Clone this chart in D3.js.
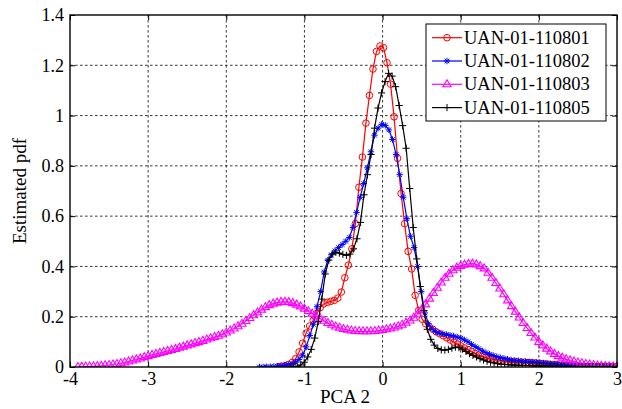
<!DOCTYPE html>
<html><head><meta charset="utf-8">
<script src="https://cdn.jsdelivr.net/npm/d3@7/dist/d3.min.js"></script>
<style>
body{margin:0;background:#fff}
svg{display:block}
text{font-family:"Liberation Serif","Times New Roman",serif;fill:#000}
</style>
</head><body>
<svg id="chart" width="622" height="409"></svg>
<script>
// Axis ticks
const xTicks = [-4, -3, -2, -1, 0, 1, 2, 3];
const xTickLabels = ["-4", "-3", "-2", "-1", "0", "1", "2", "3"];
const yTicks = [0, 0.2, 0.4, 0.6, 0.8, 1, 1.2, 1.4];
const yTickLabels = ["0", "0.2", "0.4", "0.6", "0.8", "1", "1.2", "1.4"];

// Series names (legend order)
const seriesNames = ["UAN-01-110801", "UAN-01-110802", "UAN-01-110803", "UAN-01-110805"];

// Each kernel density estimate is evaluated on a regular PCA 2 grid (start, step)
const gridStart = [-1.338, -1.575, -3.9, -1.183];
const gridStep = [0.045, 0.046, 0.05, 0.045];

// Estimated pdf values along each grid
const pdf110801 = [
  0.001,0.003,0.005,0.010,0.018,0.033,0.060,0.095,0.135,0.163,
  0.186,0.213,0.236,0.251,0.257,0.261,0.265,0.274,0.298,0.355,
  0.405,0.470,0.570,0.715,0.835,0.970,1.080,1.185,1.255,1.277,
  1.270,1.210,1.125,0.995,0.830,0.690,0.570,0.460,0.390,0.285,
  0.225,0.190,0.172,0.160,0.150,0.140,0.132,0.124,0.116,0.107,
  0.099,0.091,0.084,0.076,0.069,0.061,0.053,0.047,0.042,0.038,
  0.034,0.031,0.029,0.027,0.025,0.023,0.022,0.021,0.020,0.019,
  0.019,0.018,0.017,0.016,0.015,0.013,0.012,0.011,0.010,0.009,
  0.008,0.007,0.006,0.005,0.004,0.004,0.003,0.003,0.002,0.002,
  0.002,0.001,0.001,0.001,0.001,0.001,0.000
];
const pdf110802 = [
  0.000,0.000,0.001,0.001,0.002,0.003,0.005,0.007,0.009,0.012,
  0.019,0.030,0.047,0.080,0.125,0.170,0.240,0.300,0.378,0.425,
  0.446,0.462,0.475,0.487,0.500,0.515,0.555,0.615,0.675,0.730,
  0.792,0.856,0.922,0.950,0.965,0.961,0.943,0.905,0.845,0.765,
  0.675,0.590,0.520,0.475,0.400,0.300,0.215,0.172,0.152,0.141,
  0.135,0.132,0.129,0.126,0.123,0.119,0.115,0.108,0.100,0.090,
  0.081,0.073,0.064,0.057,0.051,0.046,0.041,0.037,0.034,0.031,
  0.028,0.026,0.025,0.023,0.022,0.021,0.020,0.019,0.018,0.016,
  0.015,0.013,0.012,0.011,0.009,0.008,0.007,0.006,0.005,0.005,
  0.004,0.003,0.003,0.002,0.002,0.002,0.001,0.001,0.001,0.001
];
const pdf110803 = [
  0.000,0.001,0.002,0.002,0.003,0.004,0.005,0.007,0.008,0.010,
  0.012,0.015,0.018,0.022,0.026,0.030,0.034,0.039,0.043,0.048,
  0.052,0.056,0.060,0.064,0.068,0.072,0.077,0.081,0.086,0.090,
  0.095,0.099,0.104,0.109,0.114,0.119,0.124,0.130,0.137,0.145,
  0.153,0.162,0.172,0.183,0.195,0.206,0.217,0.228,0.238,0.246,
  0.252,0.256,0.259,0.259,0.258,0.254,0.248,0.241,0.232,0.222,
  0.212,0.202,0.193,0.184,0.175,0.168,0.161,0.156,0.151,0.148,
  0.145,0.143,0.142,0.142,0.142,0.142,0.143,0.145,0.147,0.150,
  0.153,0.157,0.162,0.168,0.176,0.185,0.196,0.210,0.228,0.249,
  0.272,0.294,0.315,0.336,0.355,0.371,0.385,0.395,0.402,0.407,
  0.410,0.411,0.408,0.401,0.392,0.375,0.355,0.334,0.312,0.289,
  0.265,0.242,0.220,0.197,0.175,0.155,0.135,0.117,0.100,0.086,
  0.073,0.062,0.052,0.044,0.037,0.031,0.026,0.022,0.018,0.015,
  0.012,0.010,0.008,0.006,0.005,0.004,0.003,0.002,0.002
];
const pdf110805 = [
  0.000,0.001,0.003,0.008,0.019,0.040,0.070,0.115,0.180,0.270,
  0.370,0.425,0.449,0.456,0.453,0.448,0.444,0.449,0.470,0.510,
  0.575,0.685,0.765,0.845,0.950,1.030,1.090,1.135,1.168,1.157,
  1.115,1.040,0.960,0.870,0.710,0.555,0.430,0.320,0.225,0.150,
  0.110,0.087,0.074,0.068,0.067,0.070,0.075,0.079,0.077,0.071,
  0.062,0.053,0.046,0.040,0.033,0.028,0.023,0.019,0.016,0.013,
  0.011,0.010,0.009,0.008,0.007,0.007,0.006,0.006,0.006,0.005,
  0.005,0.005,0.004,0.004,0.003,0.003,0.003,0.002,0.002,0.002,
  0.002,0.001,0.001,0.001,0.001,0.001,0.001,0.001,0.000,0.000,
  0.000,0.000,0.000
];

const seriesColors = ["#ff0000", "#0000ff", "#ff00ff", "#000000"];
const seriesMarkers = ["circle", "asterisk", "triangle", "plus"];
const seriesValues = [pdf110801, pdf110802, pdf110803, pdf110805];

const svg = d3.select("#chart");
const plot = {left: 70, right: 617, top: 15, bottom: 367};

const x = d3.scaleLinear().domain([-4, 3]).range([plot.left, plot.right]);
const y = d3.scaleLinear().domain([0, 1.4]).range([plot.bottom, plot.top]);

const series = seriesNames.map((name, k) => ({
  name,
  color: seriesColors[k],
  marker: seriesMarkers[k],
  points: seriesValues[k].map((v, i) => ({px: gridStart[k] + i * gridStep[k], py: v}))
}));

// Marker shapes
function markerPath(type) {
  if (type === "plus") { const s = 3.6; return `M${-s},0H${s}M0,${-s}V${s}`; }
  if (type === "asterisk") {
    const s = 3.2, d = s * 0.72;
    return `M${-s},0H${s}M0,${-s}V${s}M${-d},${-d}L${d},${d}M${-d},${d}L${d},${-d}`;
  }
  if (type === "triangle") {
    const s = 4.5;
    return `M0,${-s}L${s * 0.9},${s * 0.55}L${-s * 0.9},${s * 0.55}Z`;
  }
  return null;
}
function drawMarker(g, type, color, cx, cy) {
  if (type === "circle") {
    g.append("circle").attr("cx", cx).attr("cy", cy).attr("r", 3.3)
      .attr("fill", "none").attr("stroke", color).attr("stroke-width", 1);
  } else {
    g.append("path").attr("d", markerPath(type)).attr("transform", `translate(${cx},${cy})`)
      .attr("fill", "none").attr("stroke", color).attr("stroke-width", type === "triangle" ? 1.1 : 1);
  }
}

// Background of the plot area
svg.append("rect").attr("x", plot.left).attr("y", plot.top)
  .attr("width", plot.right - plot.left).attr("height", plot.bottom - plot.top)
  .attr("fill", "#fff");

// Dashed grid
const grid = svg.append("g").attr("stroke", "#222").attr("stroke-width", 0.9)
  .attr("stroke-dasharray", "2.6,2.4");
xTicks.slice(1, -1).forEach(t => grid.append("line")
  .attr("x1", x(t)).attr("x2", x(t)).attr("y1", plot.top).attr("y2", plot.bottom));
yTicks.slice(1, -1).forEach(t => grid.append("line")
  .attr("x1", plot.left).attr("x2", plot.right).attr("y1", y(t)).attr("y2", y(t)));

// Curves, clipped to the axes box
svg.append("clipPath").attr("id", "plotClip").append("rect")
  .attr("x", plot.left).attr("y", plot.top - 1)
  .attr("width", plot.right - plot.left).attr("height", plot.bottom - plot.top + 1);
const curves = svg.append("g").attr("clip-path", "url(#plotClip)");
const line = d3.line().x(d => x(d.px)).y(d => y(d.py));

series.forEach(s => {
  const g = curves.append("g");
  g.append("path").datum(s.points).attr("d", line)
    .attr("fill", "none").attr("stroke", s.color).attr("stroke-width", 1.2);
  s.points.forEach(p => drawMarker(g, s.marker, s.color, x(p.px), y(p.py)));
});

// Axes with inward ticks on all four sides
const tickLen = 5;
const bottomAxis = svg.append("g").attr("transform", `translate(0,${plot.bottom})`)
  .call(d3.axisBottom(x).tickValues(xTicks).tickFormat((d, i) => xTickLabels[i])
    .tickSizeInner(-tickLen).tickSizeOuter(0).tickPadding(5));
const leftAxis = svg.append("g").attr("transform", `translate(${plot.left},0)`)
  .call(d3.axisLeft(y).tickValues(yTicks).tickFormat((d, i) => yTickLabels[i])
    .tickSizeInner(-tickLen).tickSizeOuter(0).tickPadding(6));
const topAxis = svg.append("g").attr("transform", `translate(0,${plot.top})`)
  .call(d3.axisTop(x).tickValues(xTicks).tickSizeInner(-tickLen).tickSizeOuter(0).tickFormat(""));
const rightAxis = svg.append("g").attr("transform", `translate(${plot.right},0)`)
  .call(d3.axisRight(y).tickValues(yTicks).tickSizeInner(-tickLen).tickSizeOuter(0).tickFormat(""));
[bottomAxis, leftAxis, topAxis, rightAxis].forEach(a => {
  a.select(".domain").remove();
  a.selectAll(".tick line").attr("stroke", "#000").attr("stroke-width", 1);
  a.selectAll("text").style("font-family", '"Liberation Serif", serif').style("font-size", "18px").attr("fill", "#000");
});

// Frame
svg.append("rect").attr("x", plot.left).attr("y", plot.top)
  .attr("width", plot.right - plot.left).attr("height", plot.bottom - plot.top)
  .attr("fill", "none").attr("stroke", "#000").attr("stroke-width", 1.4);

// Axis labels
svg.append("text").attr("x", 345).attr("y", 403).attr("text-anchor", "middle")
  .style("font-size", "19px").text("PCA 2");
svg.append("text").attr("transform", `translate(26,${(plot.top + plot.bottom) / 2}) rotate(-90)`)
  .attr("text-anchor", "middle").style("font-size", "19px").text("Estimated pdf");

// Legend
const legend = svg.append("g");
legend.append("rect").attr("x", 426).attr("y", 24).attr("width", 180).attr("height", 97)
  .attr("fill", "#fff").attr("stroke", "#000").attr("stroke-width", 1);
series.forEach((s, i) => {
  const ly = 37.7 + i * 23.3;
  const g = legend.append("g");
  g.append("line").attr("x1", 432).attr("x2", 462).attr("y1", ly).attr("y2", ly)
    .attr("stroke", s.color).attr("stroke-width", 1.2);
  drawMarker(g, s.marker, s.color, 447, ly);
  g.append("text").attr("x", 464).attr("y", ly).attr("dy", "0.33em")
    .style("font-size", "18.5px").text(s.name);
});
</script>
</body></html>
